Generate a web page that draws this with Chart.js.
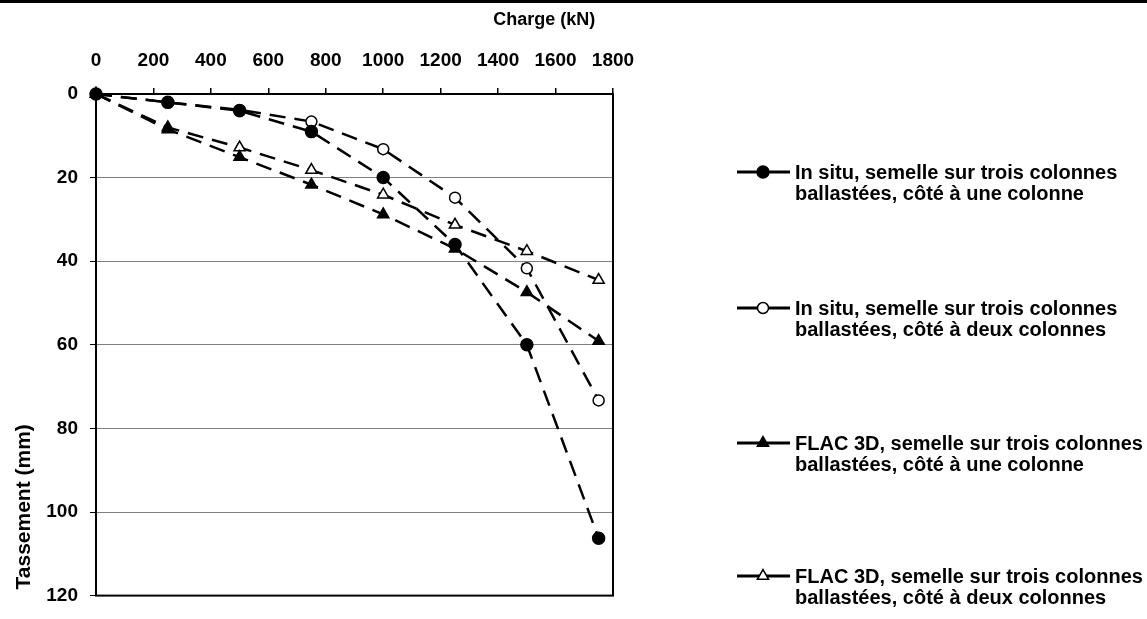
<!DOCTYPE html>
<html lang="en">
<head>
  <meta charset="UTF-8" />
  <title>Tassement - Charge</title>
  <script src="https://cdn.jsdelivr.net/npm/chart.js"></script>
  <style>
    body { margin: 0; background: #fff; }
    #wrap { position: relative; width: 1147px; height: 619px; }
    #topBar { position: absolute; left: 0; top: 0; width: 1147px; height: 3px; background: #000; }
  </style>
</head>
<body>
  <div id="wrap">
    <canvas id="chart" width="1147" height="619"></canvas>
    <div id="topBar"></div>
  </div>

  <script>
    // Charge (kN)
    const charge = [0, 250, 500, 750, 1000, 1250, 1500, 1750];

    // Tassement (mm) for each series
    const insituUne = [0, 2, 4, 9, 20, 36, 60, 106.3];
    const insituDeux = [0, 2, 3.8, 6.6, 13.2, 24.8, 41.7, 73.3];
    const flacUne = [0, 8.5, 15.1, 21.7, 28.8, 37, 47.4, 59.1];
    const flacDeux = [0, 8, 12.8, 18.2, 24.1, 31.3, 37.6, 44.5];

    const seriesLabels = [
      ["In situ, semelle sur trois colonnes", "ballastées, côté à une colonne"],
      ["In situ, semelle sur trois colonnes", "ballastées, côté à deux colonnes"],
      ["FLAC 3D, semelle sur trois colonnes", "ballastées, côté à une colonne"],
      ["FLAC 3D, semelle sur trois colonnes", "ballastées, côté à deux colonnes"]
    ];

    const xTitle = "Charge (kN)";
    const yTitle = "Tassement (mm)";
    const font = "'Liberation Sans', Arial, sans-serif";

    function pts(values) {
      return charge.map((c, i) => ({ x: c, y: values[i] }));
    }

    const markerStyles = [
      { pointStyle: "circle", fill: "#000", radius: 6 },
      { pointStyle: "circle", fill: "#fff", radius: 5.5 },
      { pointStyle: "triangle", fill: "#000", radius: 6.5 },
      { pointStyle: "triangle", fill: "#fff", radius: 6.5 }
    ];

    const allValues = [insituUne, insituDeux, flacUne, flacDeux];

    const datasets = allValues.map((vals, i) => ({
      label: seriesLabels[i].join(" "),
      data: pts(vals),
      borderColor: "#000",
      borderWidth: 2.5,
      borderDash: [16, 9],
      pointStyle: markerStyles[i].pointStyle,
      pointRadius: markerStyles[i].radius,
      pointBackgroundColor: markerStyles[i].fill,
      pointBorderColor: "#000",
      pointBorderWidth: 1.5,
      showLine: true,
      tension: 0,
      clip: false
    }));

    // Frame, axis titles and two-line legend
    const decorPlugin = {
      id: "decor",
      beforeDatasetsDraw(chart) {
        const { ctx, chartArea: a } = chart;
        ctx.save();
        ctx.strokeStyle = "#000";
        ctx.lineWidth = 2;
        ctx.strokeRect(a.left, a.top, a.right - a.left, a.bottom - a.top);
        ctx.restore();
      },
      afterDraw(chart) {
        const { ctx, chartArea: a } = chart;
        ctx.save();
        ctx.fillStyle = "#000";
        ctx.font = "bold 18px " + font;
        ctx.textAlign = "center";
        ctx.textBaseline = "middle";
        ctx.fillText(xTitle, a.left + (a.right - a.left) * 0.867, 20);

        ctx.save();
        ctx.translate(24, a.top + (a.bottom - a.top) * 0.823);
        ctx.rotate(-Math.PI / 2);
        ctx.font = "bold 21px " + font;
        ctx.fillText(yTitle, 0, 0);
        ctx.restore();

        // legend
        const legendX = 737;
        const firstY = [172, 308, 443, 576];
        ctx.textAlign = "left";
        ctx.font = "bold 20px " + font;
        seriesLabels.forEach((lines, i) => {
          const y = firstY[i];
          ctx.strokeStyle = "#000";
          ctx.lineWidth = 3;
          ctx.setLineDash([]);
          ctx.beginPath();
          ctx.moveTo(legendX, y);
          ctx.lineTo(legendX + 53, y);
          ctx.stroke();
          ctx.fillStyle = markerStyles[i].fill;
          ctx.lineWidth = 1.5;
          Chart.helpers.drawPoint(ctx, {
            pointStyle: markerStyles[i].pointStyle,
            radius: markerStyles[i].radius,
            borderWidth: 1.5,
            rotation: 0
          }, legendX + 26, y);
          ctx.fillStyle = "#000";
          lines.forEach((t, k) => ctx.fillText(t, 795, y + 1 + k * 21));
        });
        ctx.restore();
      }
    };

    new Chart(document.getElementById("chart"), {
      type: "scatter",
      data: { datasets: datasets },
      options: {
        responsive: false,
        animation: false,
        layout: { padding: { left: 0, top: 0, right: 534, bottom: 15 } },
        plugins: {
          legend: { display: false },
          tooltip: { enabled: false }
        },
        scales: {
          x: {
            type: "linear",
            position: "top",
            min: 0,
            max: 1800,
            afterFit: (s) => { s.height = 94; },
            ticks: {
              stepSize: 200,
              padding: 16,
              color: "#000",
              callback: (v) => String(v),
              font: { family: font, size: 19, weight: "bold" }
            },
            grid: { drawOnChartArea: false, tickLength: 6, tickColor: "#000", lineWidth: 1.5 },
            border: { color: "#000", width: 2 }
          },
          y: {
            type: "linear",
            reverse: true,
            min: 0,
            max: 120,
            afterFit: (s) => { s.width = 96; },
            ticks: {
              stepSize: 20,
              padding: 12,
              color: "#000",
              callback: (v) => String(v),
              font: { family: font, size: 19, weight: "bold" }
            },
            grid: { color: "#808080", lineWidth: 1, tickLength: 6, tickColor: "#000" },
            border: { color: "#000", width: 2 }
          }
        }
      },
      plugins: [decorPlugin]
    });
  </script>
</body>
</html>
